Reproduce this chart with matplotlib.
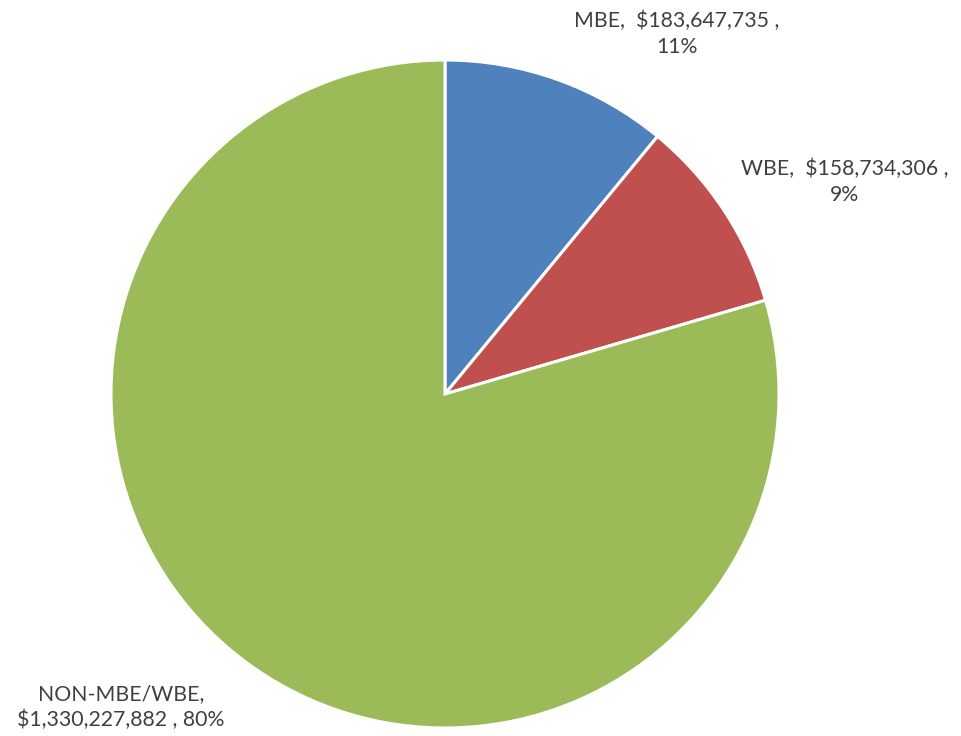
import matplotlib
matplotlib.use("Agg")
import matplotlib.pyplot as plt

categories = ["MBE", "WBE", "NON-MBE/WBE"]
amounts = [183647735, 158734306, 1330227882]
colors = ["#4F81BD", "#C0504D", "#9BBB59"]

W, H = 962, 736
fig = plt.figure(figsize=(W / 100, H / 100), dpi=100)
ax = fig.add_axes([0, 0, 1, 1])

cx, cy, r = 445, H - 394, 334
ax.pie(amounts, colors=colors, startangle=90, counterclock=False,
       center=(cx, cy), radius=r, frame=True,
       wedgeprops=dict(edgecolor="white", linewidth=2.2))
ax.set_xlim(0, W)
ax.set_ylim(0, H)
ax.set_aspect("equal")
ax.axis("off")

total = sum(amounts)
pcts = [round(a / total * 100) for a in amounts]

font = dict(family="Lato", fontsize=15.3, color="#404040", ha="center",
            va="center", linespacing=1.35)
labels = [
    f"{categories[0]},  ${amounts[0]:,} ,\n{pcts[0]}%",
    f"{categories[1]},  ${amounts[1]:,} ,\n{pcts[1]}%",
    f"{categories[2]},\n${amounts[2]:,} , {pcts[2]}%",
]
positions = [(677, H - 34), (845, H - 182), (121, H - 707)]
for text, (x, y) in zip(labels, positions):
    ax.text(x, y, text, **font)

fig.savefig("out.png", dpi=100)
